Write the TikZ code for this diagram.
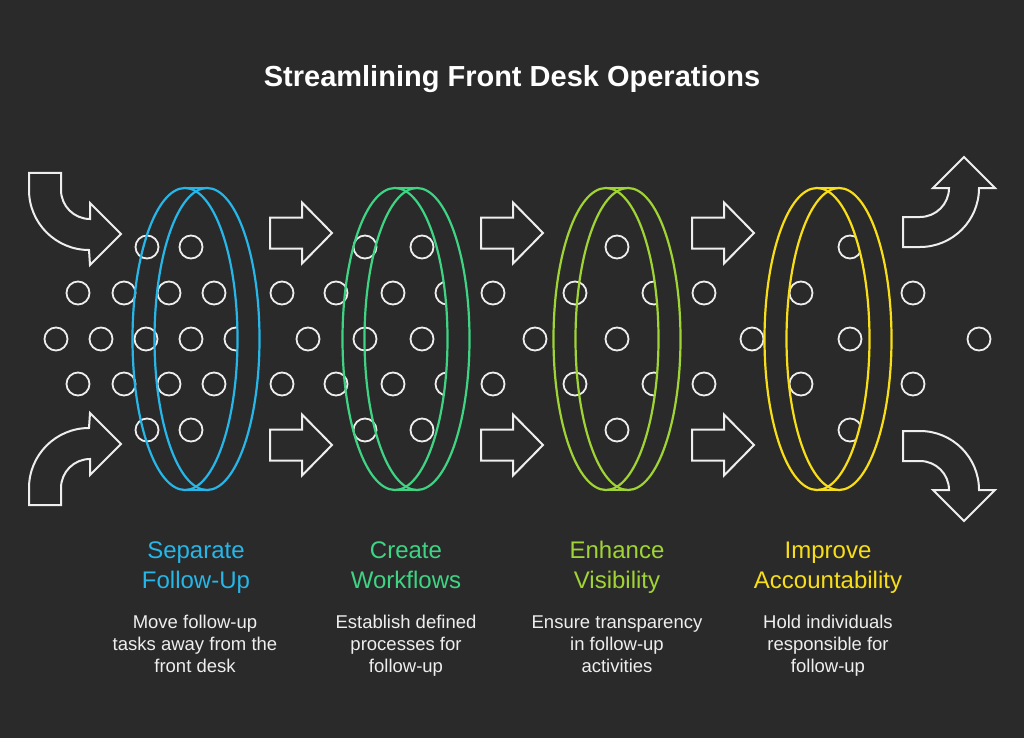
\documentclass[tikz,border=0pt]{standalone}
\usepackage{fontspec}
\setmainfont{Liberation Sans}
\usepackage{xcolor}
\definecolor{bgdark}{RGB}{42,42,42}
\definecolor{ringcyan}{RGB}{38,182,232}
\definecolor{ringgreen}{RGB}{62,212,132}
\definecolor{ringlime}{RGB}{160,212,52}
\definecolor{ringyellow}{RGB}{248,222,24}
\definecolor{softwhite}{RGB}{238,238,238}
\usepackage{tikz}
\usetikzlibrary{positioning}

\begin{document}
\begin{tikzpicture}[x=1pt, y=-1pt,
  dot/.style={draw=softwhite, line width=1.8pt},
  ring/.style={draw=#1, line width=2.2pt},
  barrow/.style={draw=softwhite, line width=2pt, line join=miter},
  heading/.style={font=\fontsize{24}{30}\selectfont, text=#1, align=center,
    text height=45pt, text depth=6pt},
  desc/.style={font=\fontsize{18.5}{22}\selectfont, text=softwhite, align=center,
    text height=56pt, text depth=6pt}]
  % Background
  \fill[bgdark] (0,0) rectangle (1024,738);
  \useasboundingbox (0,0) rectangle (1024,738);

  % Title
  \node[font=\fontsize{29}{34}\selectfont\bfseries, text=white] (title) at (512,79) {Streamlining Front Desk Operations};

  % --- Flow of dots ---
  \foreach \x in {147,191,365,422,617,850} {
    \draw[dot] (\x,247) circle (11.5pt);
    \draw[dot] (\x,430) circle (11.5pt);
  }
  \foreach \x in {78,124,169,214,282,336,393,447,493,575,654,704,801,913} {
    \draw[dot] (\x,293) circle (11.5pt);
    \draw[dot] (\x,384) circle (11.5pt);
  }
  \foreach \x in {56,101,146,191,236,308,365,422,535,617,752,850,979}
    \draw[dot] (\x,339) circle (11.5pt);

  % --- Filter rings ---
  \foreach \c/\col in {196/ringcyan, 406/ringgreen, 617/ringlime, 828/ringyellow} {
    \begin{scope}
      \clip (\c,150) rectangle (\c+80,530);
      \fill[bgdark, even odd rule] (\c-11,339) ellipse [x radius=52.5, y radius=151]
                                   (\c+11,339) ellipse [x radius=52.5, y radius=151];
    \end{scope}
    \draw[ring=\col] (\c-11,339) ellipse [x radius=52.5, y radius=151];
    \draw[ring=\col] (\c+11,339) ellipse [x radius=52.5, y radius=151];
    \draw[ring=\col] (\c-11,188) -- (\c+11,188);
    \draw[ring=\col] (\c-11,490) -- (\c+11,490);
  }

  % --- Straight arrows between rings ---
  \foreach \x/\y in {270/233, 270/445, 481/233, 481/445, 692/233, 692/445}
    \draw[barrow, shift={(\x,\y)}] (0,-15.5) -- (32,-15.5) -- (32,-30.5) -- (62,0)
      -- (32,30.5) -- (32,15.5) -- (0,15.5) -- cycle;

  % --- Curved arrows in ---
  \draw[barrow] (29,173) -- (29,190) arc[start angle=180, end angle=90, radius=60]
    -- (90,265) -- (121,234) -- (90,203) -- (90,219)
    arc[start angle=90, end angle=180, radius=29] -- (61,173) -- cycle;
  \draw[barrow] (29,505) -- (29,488) arc[start angle=180, end angle=270, radius=60]
    -- (90,413) -- (121,444) -- (90,475) -- (90,459)
    arc[start angle=270, end angle=180, radius=29] -- (61,505) -- cycle;

  % --- Curved arrows out ---
  \draw[barrow] (903,217) -- (920,217) arc[start angle=90, end angle=0, radius=29]
    -- (933,188) -- (964,157) -- (995,188) -- (979,188)
    arc[start angle=0, end angle=90, radius=59] -- (903,247) -- cycle;
  \draw[barrow] (903,461) -- (920,461) arc[start angle=270, end angle=360, radius=29]
    -- (933,490) -- (964,521) -- (995,490) -- (979,490)
    arc[start angle=0, end angle=-90, radius=59] -- (903,431) -- cycle;

  % --- Labels ---
  \node[heading=ringcyan] (sepHead) at (196,568.5) {Separate\\Follow-Up};
  \node[heading=ringgreen] (wfHead) at (406,568.5) {Create\\Workflows};
  \node[heading=ringlime] (visHead) at (617,568.5) {Enhance\\Visibility};
  \node[heading=ringyellow] (accHead) at (828,568.5) {Improve\\Accountability};

  \node[desc] (sepText) at (195,647) {Move follow-up\\tasks away from the\\front desk};
  \node[desc] (wfText) at (406,647) {Establish defined\\processes for\\follow-up};
  \node[desc] (visText) at (617,647) {Ensure transparency\\in follow-up\\activities};
  \node[desc] (accText) at (828,647) {Hold individuals\\responsible for\\follow-up};
\end{tikzpicture}
\end{document}
